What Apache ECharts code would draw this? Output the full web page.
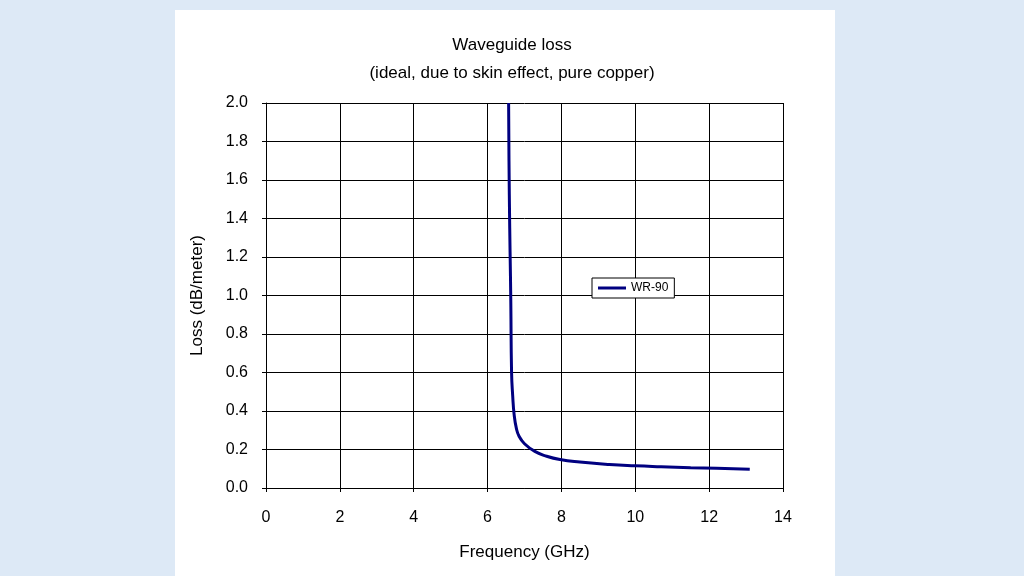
<!DOCTYPE html>
<html><head><meta charset="utf-8">
<script src="https://cdn.jsdelivr.net/npm/echarts@6/dist/echarts.min.js"></script>
<style>
html,body{margin:0;padding:0;background:#dde9f6;}
#panel{position:absolute;left:175px;top:10px;width:660px;height:566px;background:#fff;}
#chart{position:absolute;left:0;top:0;width:1024px;height:576px;}
</style></head>
<body><div id="panel"></div><div id="chart"></div>
<script>
// WR-90 loss curve
var freqGHz = [6.57, 6.58, 6.60, 6.62, 6.63, 6.65, 6.68, 6.72, 6.78, 6.85, 7.0, 7.28, 7.6, 7.96, 8.5, 9.3, 10.0, 10.7, 11.5, 12.2, 13.1];
var lossDb  = [2.0, 1.7, 1.35, 1.1, 0.95, 0.6, 0.48, 0.38, 0.31, 0.27, 0.23, 0.19, 0.165, 0.148, 0.135, 0.122, 0.115, 0.11, 0.105, 0.102, 0.097];

var chart = echarts.init(document.getElementById('chart'));
var font = 'Liberation Sans';
chart.setOption({
    animation: false,
    title: {
        text: 'Waveguide loss\n(ideal, due to skin effect, pure copper)',
        left: 'center', top: 26,
        textStyle: {fontFamily: font, fontSize: 17, fontWeight: 'normal', color: '#000', lineHeight: 28}
    },
    legend: {
        left: 592, top: 278, orient: 'vertical',
        backgroundColor: '#fff', borderColor: '#000', borderWidth: 1, borderRadius: 0,
        padding: [4, 6], itemWidth: 28, itemHeight: 3, itemGap: 0,
        textStyle: {fontFamily: font, fontSize: 12, color: '#000'},
        data: [{name: 'WR-90', icon: 'rect'}]
    },
    grid: {left: 266, right: 241, top: 103, bottom: 88},
    xAxis: {
        type: 'value', min: 0, max: 14, interval: 2,
        name: 'Frequency (GHz)', nameLocation: 'middle', nameGap: 56,
        nameTextStyle: {fontFamily: font, fontSize: 17, color: '#000'},
        axisLine: {lineStyle: {color: '#000'}},
        axisTick: {show: true, inside: false, length: 4, lineStyle: {color: '#000'}},
        axisLabel: {fontFamily: font, fontSize: 16, color: '#000', margin: 22},
        splitLine: {lineStyle: {color: '#000'}}
    },
    yAxis: {
        type: 'value', min: 0, max: 2, interval: 0.2,
        name: 'Loss (dB/meter)', nameLocation: 'middle', nameGap: 60,
        nameTextStyle: {fontFamily: font, fontSize: 17, color: '#000'},
        axisLine: {show: true, lineStyle: {color: '#000'}},
        axisTick: {show: true, length: 4, lineStyle: {color: '#000'}},
        axisLabel: {fontFamily: font, fontSize: 16, color: '#000', margin: 18, formatter: function (v) { return v.toFixed(1); }},
        splitLine: {lineStyle: {color: '#000'}}
    },
    series: [{
        name: 'WR-90', type: 'line', smooth: true, showSymbol: false,
        lineStyle: {color: '#000080', width: 3}, itemStyle: {color: '#000080'},
        data: freqGHz.map(function (f, i) { return [f, lossDb[i]]; })
    }]
});
</script></body></html>
